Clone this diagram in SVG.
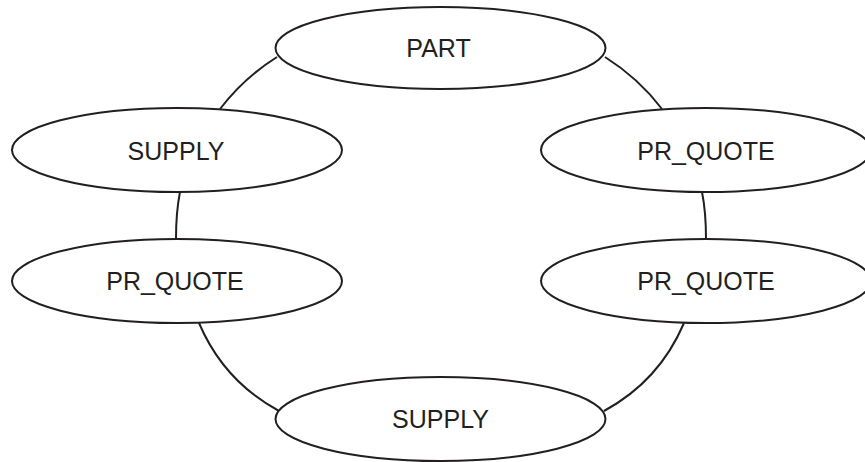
<svg xmlns="http://www.w3.org/2000/svg" width="865" height="462" viewBox="0 0 865 462">
<style>
.n ellipse{fill:#fff;stroke:#231f20;stroke-width:2}
.n text{font-family:"Liberation Sans",Arial,sans-serif;font-size:25px;fill:#231f20;text-anchor:middle}
#edges path{fill:none;stroke:#231f20;stroke-width:2}
</style>
<rect width="865" height="462" fill="#fff"/>
<g id="edges">
<path d="M277,57 Q243.6,78 220,109"/>
<path d="M605,57 Q638.4,78 662,109"/>
<path d="M180,192 Q176,212 176,239"/>
<path d="M702,192 Q706,212 706,239"/>
<path d="M199,323 Q223.7,381 279,411"/>
<path d="M684,323 Q659.3,381 604,411"/>
</g>
<g id="part" class="n"><ellipse cx="440.5" cy="48" rx="165" ry="41"/><text x="438.5" y="57">PART</text></g>
<g id="supply1" class="n"><ellipse cx="177" cy="150" rx="165" ry="42"/><text x="176" y="160">SUPPLY</text></g>
<g id="prquote1" class="n"><ellipse cx="706" cy="150" rx="165" ry="42"/><text x="706" y="160">PR_QUOTE</text></g>
<g id="prquote2" class="n"><ellipse cx="177" cy="281" rx="165" ry="42"/><text x="175" y="290">PR_QUOTE</text></g>
<g id="prquote3" class="n"><ellipse cx="706" cy="281" rx="165" ry="42"/><text x="706" y="290">PR_QUOTE</text></g>
<g id="supply2" class="n"><ellipse cx="440.5" cy="419" rx="165" ry="42"/><text x="440.5" y="428">SUPPLY</text></g>
</svg>
